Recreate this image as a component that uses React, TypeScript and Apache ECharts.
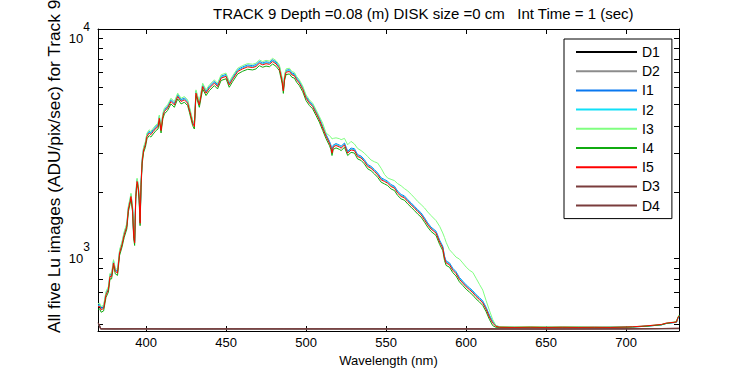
import React, { useEffect, useRef } from 'react';
import * as echarts from 'echarts';

const titleText = 'TRACK 9 Depth =0.08 (m) DISK size =0 cm   Int Time = 1 (sec)';
const xName = 'Wavelength (nm)';
const yName = 'All five Lu images (ADU/pix/sec) for Track 9';

const seriesNames = ['D1', 'D2', 'I1', 'I2', 'I3', 'I4', 'I5', 'D3', 'D4'];
const seriesColors = ['#000000', '#8c8c8c', '#0a78f0', '#10e0f8', '#80ff80', '#10aa10', '#ff0000', '#7a3c3c', '#7a3c3c'];

const xTicks = [400, 450, 500, 550, 600, 650, 700];
const yMajorTicks = [1000, 10000];
const yMinorTicks = [500, 600, 700, 800, 900, 2000, 3000, 4000, 5000, 6000, 7000, 8000, 9000];

const wavelength = [370,371,372,373.5,375,376.5,377.5,378.5,379.7,380.8,
382.2,383.5,385,386.4,388,389,390,390.6,391.6,392.3,
392.9,393.6,394.4,395.1,395.7,396.3,396.9,397.6,398.5,399.6,
400.6,402,403,404.5,406.3,407.5,408.3,409.4,410.5,411.5,
413.5,415.6,417.7,419.8,421.9,424,426,427.1,429.1,430.2,
431.2,433.3,435.4,437.5,439.6,442.7,444.7,446.9,450,452,
454.1,457.3,460.4,463.5,466.6,468.7,470.8,472.9,475,477.1,
479.1,481.2,483.3,485,485.8,486.6,487.5,489.6,491.2,492.7,
494.1,495.8,497.9,500,502.1,504.1,506.2,508.3,510.4,512.5,
514.6,515.5,516.2,517,518.7,520.8,521.9,524,526,528.1,
530.2,532.2,534.4,536.4,538.5,540.6,542.7,544.7,546.9,549,
551,553.1,555.2,557.2,559.4,561.4,563.5,565.6,567.7,569.7,
571.9,574,576,578.1,581.2,583.5,585.4,586.5,587.5,589.6,
591.7,593.7,595.8,597.9,600,602.1,604.2,606.2,608.3,610.4,
612.5,614.5,616.6,618.7,621,630,640,650,660,670,
680,690,700,704,713,722,725,731.4,732.2,733];

const I1 = [612,615,594,602,694,732,842,842,969,887,
872,1076,1173,1301,1418,1703,1836,1943,1693,1280,
1193,1943,2275,2157,1913,1469,2198,2805,3162,3335,
3647,3774,3713,3835,3978,4039,4406,3876,4488,4733,
4906,5253,5069,5539,5253,5345,5161,4814,4192,4039,
5732,5069,6146,5732,6044,6365,6146,6712,6834,6253,
6630,7191,7395,7548,7497,7579,7839,7711,7803,7752,
7976,7793,7446,6528,5865,6732,7140,7191,6936,6885,
6589,6365,5967,5437,5165,4988,4656,4340,3978,3647,
3397,3264,3060,3264,3315,3264,3223,3335,3060,3162,
3142,2953,2907,2805,2662,2611,2525,2438,2315,2275,
2234,2157,2122,2015,1944,1918,1844,1782,1720,1661,
1604,1523,1445,1382,1325,1204,1132,1020,969,951,
898,867,816,785,755,732,709,682,661,638,
597,551,516,493,486,485,484,485,484,485,
484,485,485,486,490,497,504,510,528,540];

const I2 = [606,609,588,596,687,725,833,833,960,879,
864,1066,1162,1288,1404,1687,1818,1924,1677,1268,
1182,1924,2252,2136,1894,1454,2177,2778,3131,3303,
3611,3737,3676,3798,3939,4000,4363,3838,4444,4686,
4858,5202,5020,5484,5202,5292,5111,4767,4151,4000,
5676,5020,6085,5676,5984,6302,6085,6646,6767,6191,
6565,7121,7323,7474,7424,7504,7762,7636,7727,7676,
7898,7716,7373,6464,5808,6666,7070,7121,6868,6818,
6525,6302,5909,5383,5115,4939,4611,4298,3939,3611,
3363,3232,3030,3232,3283,3232,3192,3303,3030,3131,
3111,2924,2879,2778,2636,2586,2500,2414,2293,2252,
2212,2136,2101,1995,1925,1899,1826,1764,1703,1644,
1589,1508,1431,1369,1312,1192,1121,1010,960,941,
889,859,808,778,747,725,702,676,654,631,
591,545,511,491,485,484,485,485,485,484,
485,484,486,487,491,498,505,511,530,542];

const I3 = [620,624,602,611,704,743,854,854,983,900,
885,1092,1190,1320,1439,1728,1863,1972,1718,1299,
1211,1972,2308,2189,1941,1490,2230,2846,3209,3384,
3700,3830,3767,3892,4037,4099,4471,3933,4554,4802,
4978,5330,5144,5620,5330,5423,5237,4885,4254,4099,
5817,5144,6236,5817,6132,6458,6236,6810,6935,6345,
6728,7297,7504,7659,7607,7690,7954,7825,7918,7866,
8094,7907,7556,6624,5951,6831,7245,7297,7038,6986,
6686,6458,6055,5517,5241,5061,4725,4404,4100,3700,
3600,3550,3480,3500,3520,3490,3454,3500,3273,3393,
3300,3150,3080,3000,2895,2790,2740,2705,2560,2400,
2310,2280,2250,2180,2130,2070,2020,1950,1880,1810,
1750,1690,1620,1560,1480,1392,1300,1240,1180,1091,
1050,1010,990,950,910,880,860,810,760,715,
640,580,525,492,488,487,488,487,487,487,
486,486,486,487,492,499,506,514,536,550];

const I4 = [585,588,567,575,663,700,804,804,926,848,
834,1029,1121,1243,1355,1628,1755,1857,1619,1224,
1141,1857,2174,2062,1828,1404,2101,2681,3023,3188,
3486,3608,3549,3666,3803,3861,4212,3705,4290,4524,
4690,5021,4846,5294,5021,5109,4934,4602,4007,3861,
5480,4846,5874,5480,5777,6084,5874,6416,6533,5977,
6338,6874,7069,7215,7166,7244,7493,7371,7459,7410,
7625,7449,7118,6240,5606,6435,6825,6874,6630,6581,
6299,6084,5704,5197,4937,4768,4451,4149,3803,3486,
3247,3120,2925,3120,3169,3120,3081,3188,2925,3023,
3003,2823,2779,2681,2545,2496,2413,2330,2213,2174,
2135,2062,2028,1926,1858,1833,1763,1703,1644,1587,
1534,1456,1382,1321,1267,1151,1082,975,926,909,
858,829,780,751,722,700,678,652,632,609,
570,527,493,484,484,483,484,483,484,484,
483,484,485,486,490,497,504,512,535,548];

const I5 = [600,603,582,590,680,718,825,825,950,870,
855,1055,1150,1275,1390,1670,1800,1905,1660,1255,
1170,1905,2230,2115,1875,1440,2155,2750,3100,3270,
3575,3700,3640,3760,3900,3960,4320,3800,4400,4640,
4810,5150,4970,5430,5150,5240,5060,4720,4110,3960,
5620,4970,6025,5620,5925,6240,6025,6580,6700,6130,
6500,7050,7250,7400,7350,7430,7685,7560,7650,7600,
7820,7640,7300,6400,5750,6600,7000,7050,6800,6750,
6460,6240,5850,5330,5064,4890,4565,4255,3900,3575,
3330,3200,3000,3200,3250,3200,3160,3270,3000,3100,
3080,2895,2850,2750,2610,2560,2475,2390,2270,2230,
2190,2115,2080,1975,1906,1880,1808,1747,1686,1628,
1573,1493,1417,1355,1299,1180,1110,1000,950,932,
880,850,800,770,740,718,695,669,648,625,
585,540,506,489,485,484,485,484,485,484,
485,484,486,487,492,499,506,512,533,545];

const dWavelength = [370, 370.8, 371.6, 380, 395, 420, 450, 500, 550, 600, 650, 700, 720, 733];
const D1 = [500, 495, 477, 476, 477, 476, 476, 476, 477, 476, 476, 477, 477, 478];
const D2 = [498, 493, 476, 476, 476, 477, 476, 476, 476, 476, 477, 476, 477, 477];
const D3 = [508, 500, 477, 477, 476, 476, 477, 476, 476, 477, 476, 476, 478, 479];
const D4 = [506, 498, 476, 476, 477, 476, 476, 477, 476, 476, 476, 477, 478, 480];

const X_MIN = 370;
const X_MAX = 733;
const Y_MIN = 466;
const Y_MAX = 11000;

const FONT = '"Liberation Sans", Arial, Helvetica, sans-serif';

function pairs(xs: number[], ys: number[]) {
  return xs.map((x, i) => [x, ys[i]]);
}

export default function App() {
  const ref = useRef<HTMLDivElement>(null);

  useEffect(() => {
    document.body.style.margin = '0';
    const chart = echarts.init(ref.current!, null, { renderer: 'svg' });

    const seriesData: Record<string, number[][]> = {
      D1: pairs(dWavelength, D1),
      D2: pairs(dWavelength, D2),
      I1: pairs(wavelength, I1),
      I2: pairs(wavelength, I2),
      I3: pairs(wavelength, I3),
      I4: pairs(wavelength, I4),
      I5: pairs(wavelength, I5),
      D3: pairs(dWavelength, D3),
      D4: pairs(dWavelength, D4),
    };

    const series = seriesNames.map((name, i) => ({
      name,
      type: 'line',
      data: seriesData[name],
      symbol: 'none',
      showSymbol: false,
      lineStyle: { color: seriesColors[i], width: 1 },
      itemStyle: { color: seriesColors[i] },
      z: 2 + i,
    }));

    const axisLine = { show: true, onZero: false, lineStyle: { color: '#000', width: 1 } };

    chart.setOption({
      animation: false,
      backgroundColor: '#fff',
      title: {
        text: titleText,
        left: 213,
        top: 4,
        padding: 0,
        textStyle: { fontFamily: FONT, fontSize: 15, fontWeight: 'normal', color: '#000', lineHeight: 18 },
      },
      grid: { left: 98, right: 71, top: 29, bottom: 44 },
      xAxis: [
        {
          type: 'value',
          min: X_MIN,
          max: X_MAX,
          position: 'bottom',
          axisLine,
          axisTick: { show: true, inside: true, length: 5, customValues: xTicks, lineStyle: { color: '#000' } },
          axisLabel: { customValues: xTicks, color: '#000', fontSize: 13, fontFamily: FONT, margin: 5 },
          splitLine: { show: false },
          name: xName,
          nameLocation: 'middle',
          nameGap: 22,
          nameTextStyle: { color: '#000', fontSize: 13, fontFamily: FONT },
        },
        {
          type: 'value',
          min: X_MIN,
          max: X_MAX,
          position: 'top',
          axisLine,
          axisTick: { show: true, inside: true, length: 5, customValues: xTicks, lineStyle: { color: '#000' } },
          axisLabel: { show: false },
          splitLine: { show: false },
        },
      ],
      yAxis: [
        {
          type: 'log',
          logBase: 10,
          min: Y_MIN,
          max: Y_MAX,
          position: 'left',
          axisLine,
          axisTick: { show: false },
          splitLine: { show: false },
          axisLabel: {
            margin: 8,
            showMinLabel: false,
            showMaxLabel: false,
            formatter: (v: number) => {
              for (const t of yMajorTicks) {
                if (Math.abs(v - t) < t * 1e-6) return `{b|10}{s|${Math.round(Math.log10(t))}}`;
              }
              return '';
            },
            rich: {
              b: { fontSize: 13, fontFamily: FONT, color: '#000', lineHeight: 34, verticalAlign: 'middle' },
              s: { fontSize: 12, fontFamily: FONT, color: '#000', lineHeight: 14, verticalAlign: 'top' },
            },
          },
        },
        {
          type: 'log',
          logBase: 10,
          min: Y_MIN,
          max: Y_MAX,
          position: 'right',
          axisLine,
          axisTick: { show: false },
          axisLabel: { show: false },
          splitLine: { show: false },
        },
      ],
      legend: {
        data: seriesNames,
        orient: 'vertical',
        left: 564,
        top: 39,
        itemWidth: 61,
        itemHeight: 14,
        itemGap: 5.2,
        padding: [6, 12, 6, 11],
        borderColor: '#000',
        borderWidth: 1,
        borderRadius: 0,
        backgroundColor: '#fff',
        selectedMode: false,
        textStyle: { fontFamily: FONT, fontSize: 14, color: '#000', lineHeight: 14 },
        itemStyle: { opacity: 0 },
      },
      series,
    });

    const xl = chart.convertToPixel({ xAxisIndex: 0 }, X_MIN) as number;
    const xr = chart.convertToPixel({ xAxisIndex: 0 }, X_MAX) as number;
    const tickLen = 5;
    const graphics: any[] = [];
    [...yMajorTicks, ...yMinorTicks].forEach((v) => {
      const py = Math.round(chart.convertToPixel({ yAxisIndex: 0 }, v) as number) + 0.5;
      graphics.push({
        type: 'line',
        silent: true,
        shape: { x1: Math.round(xl), y1: py, x2: Math.round(xl) + tickLen, y2: py },
        style: { stroke: '#000', lineWidth: 1 },
      });
      graphics.push({
        type: 'line',
        silent: true,
        shape: { x1: Math.round(xr) - tickLen, y1: py, x2: Math.round(xr), y2: py },
        style: { stroke: '#000', lineWidth: 1 },
      });
    });
    graphics.push({
      type: 'text',
      x: 54,
      y: 333,
      rotation: Math.PI / 2,
      silent: true,
      style: {
        text: yName,
        fill: '#000',
        font: `17.3px ${FONT}`,
        align: 'left',
        verticalAlign: 'middle',
      },
    });
    chart.setOption({ graphic: graphics });

    return () => chart.dispose();
  }, []);

  return <div ref={ref} style={{ width: 750, height: 375 }} />;
}
